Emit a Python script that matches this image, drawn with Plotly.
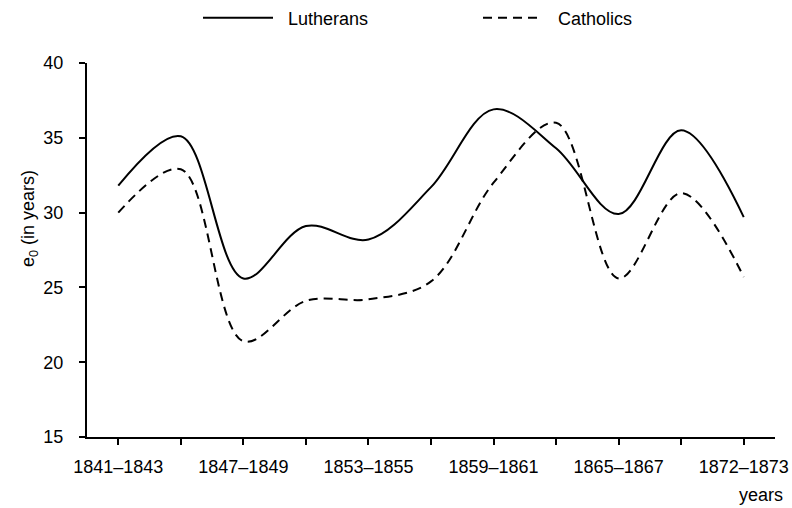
import plotly.graph_objects as go

periods = ["1841–1843", "1844–1846", "1847–1849", "1850–1852", "1853–1855", "1856–1858",
           "1859–1861", "1862–1864", "1865–1867", "1868–1871", "1872–1873"]
lutherans = [31.8, 35.1, 25.6, 29.1, 28.2, 31.7, 36.9, 34.3, 29.9, 35.5, 29.7]
catholics = [30.0, 32.9, 21.4, 24.1, 24.2, 25.4, 32.0, 36.0, 25.6, 31.3, 25.7]
y_ticks = [15, 20, 25, 30, 35, 40]

FONT = "Liberation Sans"
FS = 18
NB = "\u00a0\u00a0"
idx = list(range(len(periods)))
label_idx = idx[::2]
label_txt = periods[::2]

fig = go.Figure()
fig.add_trace(go.Scatter(x=idx, y=lutherans, mode="lines", name=NB + "Lutherans", legend="legend",
                         line=dict(color="black", width=2, shape="spline", smoothing=1.0)))
fig.add_trace(go.Scatter(x=idx, y=catholics, mode="lines", name=NB + "Catholics", legend="legend2",
                         line=dict(color="black", width=2, dash="9px,6px", shape="spline", smoothing=1.0)))

leg_common = dict(orientation="h", xref="container", yref="container", yanchor="middle",
                  xanchor="left", y=1 - 18 / 508, font=dict(size=FS),
                  bgcolor="rgba(0,0,0,0)", borderwidth=0)

fig.update_layout(
    width=792, height=508,
    margin=dict(l=87, r=17, t=63, b=71, autoexpand=False),
    paper_bgcolor="white", plot_bgcolor="white",
    font=dict(family=FONT, size=FS, color="black"),
    showlegend=True,
    legend=dict(x=198 / 792, itemwidth=70, **leg_common),
    legend2=dict(x=478 / 792, itemwidth=60, **leg_common),
    xaxis=dict(range=[-0.5, len(periods) - 0.5], tickmode="array", tickvals=label_idx, ticktext=label_txt,
               showgrid=False, zeroline=False, showline=True, linecolor="black", linewidth=2,
               ticks="outside", ticklen=6, tickwidth=2, tickcolor="black",
               minor=dict(tickmode="linear", tick0=0, dtick=1, ticks="outside", ticklen=6,
                          tickwidth=2, tickcolor="black", showgrid=False),
               ticklabelstandoff=6, automargin=False),
    yaxis=dict(range=[15, 40], tickmode="array", tickvals=y_ticks, showgrid=False, zeroline=False,
               showline=True, linecolor="black", linewidth=2,
               ticks="outside", ticklen=6, tickwidth=2, tickcolor="black",
               ticklabelstandoff=12, automargin=False),
    annotations=[
        dict(text="years", xref="paper", yref="paper", x=1.0, y=0, xanchor="right",
             yanchor="middle", yshift=-58, xshift=10, showarrow=False, font=dict(size=FS)),
        dict(text="e<sub>0</sub> (in years)", xref="paper", yref="paper", x=0, y=(437 - 219) / 374,
             xanchor="center", yanchor="middle", xshift=-58, textangle=-90, showarrow=False,
             font=dict(size=FS)),
    ],
)

fig.write_html("out.html", config={"displayModeBar": False},
               post_script="document.body.style.margin='0px';")
